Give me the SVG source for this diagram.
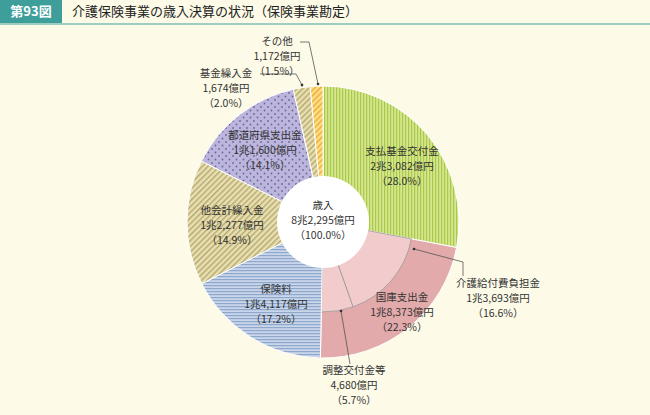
<svg xmlns="http://www.w3.org/2000/svg" width="650" height="415" viewBox="0 0 650 415">
<defs>
<pattern id="pg" width="3" height="4" patternUnits="userSpaceOnUse"><rect width="3" height="4" fill="#d6e68c"/><rect width="1.2" height="4" fill="#a9c94e"/></pattern>
<pattern id="pb" width="4" height="3" patternUnits="userSpaceOnUse"><rect width="4" height="3" fill="#c9d6ea"/><rect width="4" height="1.2" fill="#8ea8cc"/></pattern>
<pattern id="pk" width="4" height="4" patternUnits="userSpaceOnUse" patternTransform="rotate(45)"><rect width="4" height="4" fill="#e8e0b4"/><rect width="1.4" height="4" fill="#b5a86a"/></pattern>
<pattern id="pp" width="7" height="7" patternUnits="userSpaceOnUse"><rect width="7" height="7" fill="#bcb6dc"/><circle cx="2" cy="2" r="0.9" fill="#6e66a0"/><circle cx="5.5" cy="5.5" r="0.9" fill="#6e66a0"/></pattern>
<pattern id="po" width="4" height="4" patternUnits="userSpaceOnUse" patternTransform="rotate(45)"><rect width="4" height="4" fill="#fde08a"/><rect width="1.4" height="4" fill="#f0a830"/></pattern>
<marker id="ar" viewBox="0 0 6 6" refX="3" refY="3" markerWidth="4" markerHeight="4" orient="auto"><circle cx="3" cy="3" r="2.5" fill="#333"/></marker>
</defs>
<style>
text{font-family:"Noto Sans CJK JP","Noto Sans",sans-serif;font-size:10.5px;fill:#333;text-anchor:middle}
.s{stroke:#fff;stroke-width:1}
.l{fill:none;stroke:#555;stroke-width:0.8}
</style>
<rect width="650" height="415" fill="#fdfbe8"/>
<rect x="0" y="0" width="62" height="23" fill="#3e9e9a"/>
<text x="31" y="16" style="fill:#fff;font-size:13px;font-weight:bold">第93図</text>
<text x="72" y="16" style="text-anchor:start;font-size:13px;fill:#222">介護保険事業の歳入決算の状況（保険事業勘定）</text>
<line x1="0" y1="24" x2="650" y2="24" stroke="#3e9e9a" stroke-width="1"/>
<g id="slices">
<g id="s-green"><path class="s" d="M323,222 L323,86 A136,136 0 0 1 456.6,247.5 Z" fill="url(#pg)"/></g>
<g id="s-national"><path class="s" d="M323,222 L456.6,247.5 A136,136 0 0 1 320.4,358 Z" fill="#e2aaaa"/></g>
<g id="s-care"><path d="M323,222 L411.4,238.9 A90,90 0 0 1 353,306.9 Z" fill="#f2cccc" stroke="#999" stroke-width="0.8"/></g>
<g id="s-adj"><path d="M323,222 L353,306.9 A90,90 0 0 1 321.3,312 Z" fill="#f2cccc" stroke="#999" stroke-width="0.8"/></g>
<g id="s-ins"><path class="s" d="M323,222 L320.4,358 A136,136 0 0 1 201.8,283.7 Z" fill="url(#pb)"/></g>
<g id="s-oth-acc"><path class="s" d="M323,222 L201.8,283.7 A136,136 0 0 1 201.4,161.1 Z" fill="url(#pk)"/></g>
<g id="s-pref"><path class="s" d="M323,222 L201.4,161.1 A136,136 0 0 1 293.3,89.3 Z" fill="url(#pp)"/></g>
<g id="s-fund"><path class="s" d="M323,222 L293.3,89.3 A136,136 0 0 1 310.2,86.6 Z" fill="url(#pk)"/></g>
<g id="s-other"><path class="s" d="M323,222 L310.2,86.6 A136,136 0 0 1 323,86 Z" fill="url(#po)"/></g>
<g id="center"><circle cx="323" cy="222" r="46" fill="#fff"/></g>
</g>
<g id="connectors">
<polyline class="l" points="300,42 309,42 318,84" marker-end="url(#ar)"/>
<polyline class="l" points="260,74 296,74 302,85" marker-end="url(#ar)"/>
<polyline class="l" points="463,276 463,262 414,249" marker-end="url(#ar)"/>
<polyline class="l" points="350,364 341,311" marker-end="url(#ar)"/>
</g>
<g id="labels">
<g id="l-center"><text x="323" y="209">歳入</text><text x="323" y="224">8兆2,295億円</text><text x="323" y="239">（100.0%）</text></g>
<g id="l-green"><text x="402" y="155">支払基金交付金</text><text x="402" y="170">2兆3,082億円</text><text x="402" y="185">（28.0%）</text></g>
<g id="l-pref"><text x="265" y="139">都道府県支出金</text><text x="265" y="154">1兆1,600億円</text><text x="265" y="169">（14.1%）</text></g>
<g id="l-oacc"><text x="232" y="214">他会計繰入金</text><text x="232" y="229">1兆2,277億円</text><text x="232" y="244">（14.9%）</text></g>
<g id="l-ins"><text x="276" y="293">保険料</text><text x="276" y="308">1兆4,117億円</text><text x="276" y="323">（17.2%）</text></g>
<g id="l-nat"><text x="402" y="301">国庫支出金</text><text x="402" y="316">1兆8,373億円</text><text x="402" y="331">（22.3%）</text></g>
<g id="l-care"><text x="498" y="287">介護給付費負担金</text><text x="498" y="302">1兆3,693億円</text><text x="498" y="317">（16.6%）</text></g>
<g id="l-adj"><text x="354" y="374">調整交付金等</text><text x="354" y="389">4,680億円</text><text x="354" y="404">（5.7%）</text></g>
<g id="l-fund"><text x="226" y="77">基金繰入金</text><text x="226" y="92">1,674億円</text><text x="226" y="107">（2.0%）</text></g>
<g id="l-other"><text x="277" y="45">その他</text><text x="277" y="60">1,172億円</text><text x="277" y="75">（1.5%）</text></g>
</g>
</svg>
